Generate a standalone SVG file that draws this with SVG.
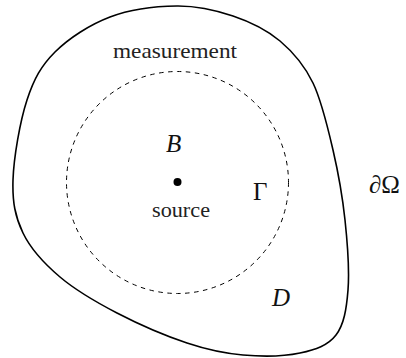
<svg xmlns="http://www.w3.org/2000/svg" width="406" height="358" viewBox="0 0 406 358">
<style>
text{font-family:'Liberation Serif','Times New Roman','DejaVu Serif',serif}
.txt{fill:#222;font-size:21.5px}
.math{fill:#111;font-size:25px}
.it{font-style:italic}
</style>
<rect width="406" height="358" fill="#fff"/>
<g id="connectors">
<path id="boundary" d="M177,6 C197.5,5.8 215.8,10.2 233,16 C250.2,21.8 266.7,29.8 280,41 C293.3,52.2 304.2,64.8 313,83 C321.8,101.2 327.7,127.2 333,150 C338.3,172.8 342.5,196.7 345,220 C347.5,243.3 349.5,270.8 348,290 C346.5,309.2 344,324.5 336,335 C328,345.5 315.5,349.7 300,353 C284.5,356.3 261.8,356.7 243,355 C224.2,353.3 208,350 187,343 C166,336 138.2,324 117,313 C95.8,302 75.7,290.3 60,277 C44.3,263.7 30.8,249.2 23,233 C15.2,216.8 12.3,202.2 13,180 C13.7,157.8 20,121.3 27,100 C34,78.7 41.2,65.8 55,52 C68.8,38.2 89.7,24.7 110,17 C130.3,9.3 156.5,6.2 177,6 Z" fill="none" stroke="#000" stroke-width="1.6"/>
<circle id="gamma" cx="177.5" cy="182.5" r="111" fill="none" stroke="#000" stroke-width="1" stroke-dasharray="4.5 4.5"/>
</g>
<g id="source">
<circle cx="177.5" cy="182" r="4" fill="#000"/>
<text class="txt" x="152" y="217" textLength="58" lengthAdjust="spacingAndGlyphs">source</text>
</g>
<g id="measurement">
<text class="txt" x="113" y="58" textLength="124" lengthAdjust="spacingAndGlyphs">measurement</text>
</g>
<g id="label-B"><text class="math it" x="166" y="152">B</text></g>
<g id="label-Gamma"><text class="math" x="253" y="200">Γ</text></g>
<g id="label-dOmega"><text class="math" x="369" y="193">∂Ω</text></g>
<g id="label-D"><text class="math it" x="272" y="306">D</text></g>
</svg>
